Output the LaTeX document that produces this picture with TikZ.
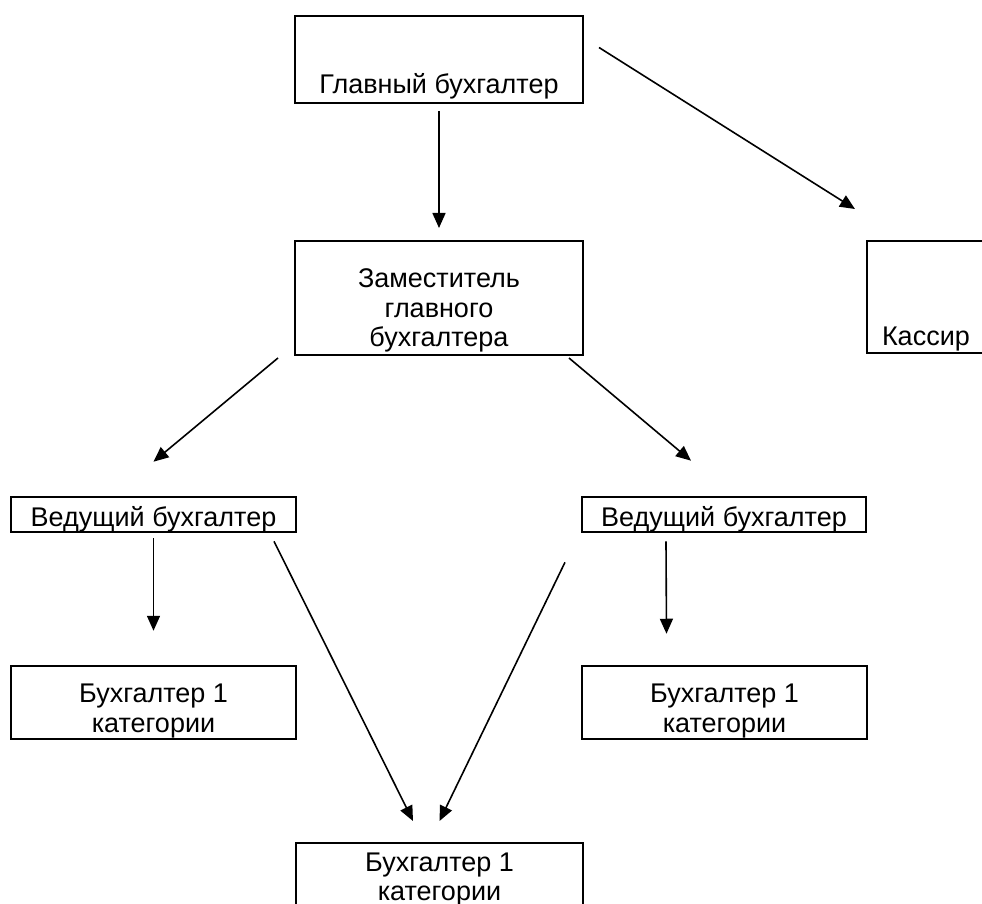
\documentclass[tikz,border=0pt]{standalone}
\usepackage{fontspec}
\setmainfont{Liberation Sans}
\usetikzlibrary{arrows.meta}

\newcommand{\hgap}[1]{\rule{0pt}{#1}}
\newcommand{\dgap}[1]{\rule[-#1]{0pt}{#1}}

\begin{document}
\begin{tikzpicture}[
        x                   = 0.5pt,
        y                   = -0.5pt,
        box/.style          = {draw, black, line width=1pt, inner sep=0pt, align=center,
                               font=\fontsize{13.5pt}{14.75pt}\selectfont},
        % line width 0.75pt
        arr/.style          = {draw, black, line width=0.8pt, -{Triangle[length=7.5pt, width=6.5pt]}},
      ]
        \useasboundingbox (0,0) rectangle (982,904);
        \clip (0,0) rectangle (982,904);

        \node[box, minimum width=144pt] (glav) at (439,59.5) {\hgap{39pt}Главный бухгалтер\dgap{4.5pt}};
        \node[box, align=left, text width=65pt, inner xsep=7.5pt] (kas) at (947,297) {\hgap{52.5pt}Кассир\dgap{3.5pt}};
        \node[box, minimum width=144pt] (zam) at (439,298) {\hgap{23.5pt}Заместитель\\главного\\бухгалтера\dgap{4pt}};

        \node[box, minimum width=142.5pt] (ved1) at (153.5,514.5) {\hgap{15pt}Ведущий бухгалтер\dgap{2.5pt}};
        \node[box, minimum width=142pt] (ved2) at (724,514.5) {\hgap{15pt}Ведущий бухгалтер\dgap{2.5pt}};

        \node[box, minimum width=142.5pt] (buh1) at (153.5,702.5) {\hgap{18.5pt}Бухгалтер 1\\категории\dgap{3.5pt}};
        \node[box, minimum width=142.5pt] (buh2) at (724.5,702.5) {\hgap{18.5pt}Бухгалтер 1\\категории\dgap{3.5pt}};
        \node[box, minimum width=143.5pt] (buh3) at (439.5,875.75) {\hgap{14pt}Бухгалтер 1\\категории\dgap{4pt}};

        \draw[arr, shorten <=3.5pt, shorten >=6pt] (glav) -- (zam);
        \draw[arr] ([xshift=7.5pt, yshift=6pt]glav.east) -- ([xshift=-5.5pt, yshift=15.5pt]kas.north west);

        \draw[arr] ([xshift=-8pt, yshift=-1pt]zam.south west) -- ([yshift=17pt]ved1.north);
        \draw[arr] ([xshift=-7.5pt, yshift=-1pt]zam.south east) -- ([xshift=-16.5pt, yshift=17.5pt]ved2.north);

        \draw[arr, shorten <=2.5pt, shorten >=17pt] (ved1) -- (buh1);
        \draw[arr] ([xshift=-29pt, yshift=-4pt]ved2.south) -- ([xshift=-29pt, yshift=15.5pt]buh2.north);

        \draw[arr] ([xshift=-11.5pt, yshift=-4pt]ved1.south east) -- ([xshift=-13.25pt, yshift=10.5pt]buh3.north);
        \draw[arr] ([xshift=-8pt, yshift=-14.5pt]ved2.south west) -- ([yshift=10.5pt]buh3.north);
    \end{tikzpicture}
\end{document}
